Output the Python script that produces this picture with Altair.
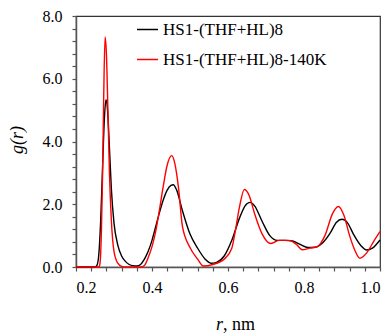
import altair as alt
import pandas as pd

# Series 1: HS1-(THF+HL)8 (black)
r_black = [0.20, 0.25, 0.255, 0.26, 0.265, 0.27, 0.275, 0.279, 0.283, 0.288, 0.293, 0.30,
           0.31, 0.32, 0.33, 0.34, 0.35, 0.36, 0.37, 0.38, 0.39, 0.40, 0.41, 0.42, 0.43,
           0.44, 0.45, 0.456, 0.465, 0.48, 0.50, 0.52, 0.54, 0.555, 0.57, 0.59, 0.61,
           0.63, 0.645, 0.658, 0.67, 0.69, 0.71, 0.73, 0.75, 0.77, 0.79, 0.81, 0.83,
           0.85, 0.87, 0.885, 0.90, 0.915, 0.93, 0.95, 0.965, 0.98, 1.00]
g_black = [0.0, 0.0, 0.05, 0.4, 1.5, 3.2, 4.8, 5.33, 5.0, 3.8, 2.5, 1.4,
           0.7, 0.35, 0.18, 0.08, 0.04, 0.03, 0.08, 0.25, 0.5, 0.85, 1.3, 1.75, 2.15,
           2.45, 2.6, 2.62, 2.45, 1.8, 1.05, 0.6, 0.25, 0.12, 0.15, 0.35, 0.85,
           1.55, 1.95, 2.06, 1.95, 1.45, 1.0, 0.85, 0.85, 0.83, 0.72, 0.62, 0.63,
           0.78, 1.1, 1.42, 1.52, 1.4, 1.05, 0.68, 0.54, 0.6, 0.86]

# Series 2: HS1-(THF+HL)8-140K (red)
r_red = [0.20, 0.26, 0.263, 0.267, 0.27, 0.273, 0.2765, 0.28, 0.284, 0.288, 0.293, 0.30,
         0.31, 0.32, 0.33, 0.37, 0.38, 0.39, 0.40, 0.41, 0.42, 0.43, 0.44, 0.452, 0.46,
         0.47, 0.48, 0.50, 0.52, 0.535, 0.56, 0.59, 0.61, 0.62, 0.63, 0.643, 0.655,
         0.67, 0.69, 0.713, 0.735, 0.76, 0.78, 0.795, 0.815, 0.835, 0.855, 0.875,
         0.89, 0.905, 0.92, 0.935, 0.947, 0.965, 0.985, 1.00]
g_red = [0.0, 0.0, 0.1, 1.2, 3.0, 5.5, 7.33, 6.8, 5.0, 3.0, 1.5, 0.5,
         0.12, 0.02, 0.0, 0.0, 0.05, 0.3, 0.65, 1.15, 1.85, 2.6, 3.25, 3.55, 3.3,
         2.5, 1.3, 0.62, 0.25, 0.03, 0.08, 0.25, 0.6, 1.2, 1.9, 2.47, 2.3,
         1.7, 1.05, 0.75, 0.85, 0.85, 0.72, 0.55, 0.6, 0.65, 1.0, 1.7,
         1.93, 1.65, 1.0, 0.5, 0.28, 0.45, 0.85, 1.13]

labels = ["HS1-(THF+HL)8", "HS1-(THF+HL)8-140K"]
colors = ["#000000", "#ff0000"]

x_ticks = [0.2, 0.24, 0.28, 0.32, 0.36, 0.4, 0.44, 0.48, 0.52, 0.56, 0.6, 0.64, 0.68,
           0.72, 0.76, 0.8, 0.84, 0.88, 0.92, 0.96, 1.0]
y_ticks = [0.0, 0.4, 0.8, 1.2, 1.6, 2.0, 2.4, 2.8, 3.2, 3.6, 4.0, 4.4, 4.8, 5.2, 5.6,
           6.0, 6.4, 6.8, 7.2, 7.6, 8.0]

df = pd.concat([
    pd.DataFrame({"r": r_black, "g": g_black, "series": labels[0]}),
    pd.DataFrame({"r": r_red, "g": g_red, "series": labels[1]}),
])

FONT = "Liberation Serif"
W, H = 304, 251

x_enc = alt.X("r:Q", scale=alt.Scale(domain=[0.2, 1.0], nice=False, zero=False),
              axis=alt.Axis(values=x_ticks, title=None,
                            labelExpr="abs(datum.value*5 - round(datum.value*5)) < 0.001 ? format(datum.value, '.1f') : ''",
                            labelFont=FONT, labelFontSize=16, labelColor="#000",
                            tickSize=4, labelPadding=8, grid=False,
                            domainColor="#555", domainWidth=1.5, tickColor="#555", tickWidth=1.2))
y_enc = alt.Y("g:Q", scale=alt.Scale(domain=[0, 8], nice=False),
              axis=alt.Axis(values=y_ticks, title=None,
                            labelExpr="abs(datum.value/2 - round(datum.value/2)) < 0.001 ? format(datum.value, '.1f') : ''",
                            labelFont=FONT, labelFontSize=16, labelColor="#000",
                            tickSize=4, labelPadding=10, grid=False,
                            domainColor="#555", domainWidth=1.5, tickColor="#555", tickWidth=1.2))

color_enc = alt.Color("series:N",
                      scale=alt.Scale(domain=labels, range=colors),
                      legend=alt.Legend(title=None, orient="none", legendX=60, legendY=2,
                                        symbolType="stroke", symbolSize=441, symbolStrokeWidth=1.5,
                                        labelFont=FONT, labelFontSize=17, labelColor="#000",
                                        labelLimit=0, rowPadding=10, labelOffset=4))

black = alt.Chart(df).transform_filter(alt.datum.series == labels[0]).mark_line(
    strokeWidth=1.4, interpolate="monotone").encode(x=x_enc, y=y_enc, color=color_enc)
red = alt.Chart(df).transform_filter(alt.datum.series == labels[1]).mark_line(
    strokeWidth=1.4, interpolate="monotone").encode(x=x_enc, y=y_enc, color=color_enc)

one = pd.DataFrame({"a": [0]})
ytitle = alt.Chart(one).mark_text(font=FONT, fontSize=18, fontStyle="italic", angle=270,
                                  align="center", baseline="middle").encode(
    x=alt.value(-58), y=alt.value(124), text=alt.value("g(r)"))
xt1 = alt.Chart(one).mark_text(font=FONT, fontSize=18, fontStyle="italic", align="right",
                               baseline="middle").encode(
    x=alt.value(147), y=alt.value(309), text=alt.value("r"))
xt2 = alt.Chart(one).mark_text(font=FONT, fontSize=18, align="left",
                               baseline="middle").encode(
    x=alt.value(147), y=alt.value(309), text=alt.value(", nm"))

chart = alt.layer(black, red, ytitle, xt1, xt2).properties(
    width=W, height=H,
    autosize=alt.AutoSizeParams(type="none"),
    padding={"left": 68, "top": 8, "right": 4, "bottom": 70},
).configure(font=FONT).configure_axis(labelFont=FONT).configure_legend(
    labelFont=FONT).configure_text(font=FONT).configure_view(stroke="#333", strokeWidth=1.2)

chart.save("out.html", embed_options={"renderer": "svg", "actions": False})
